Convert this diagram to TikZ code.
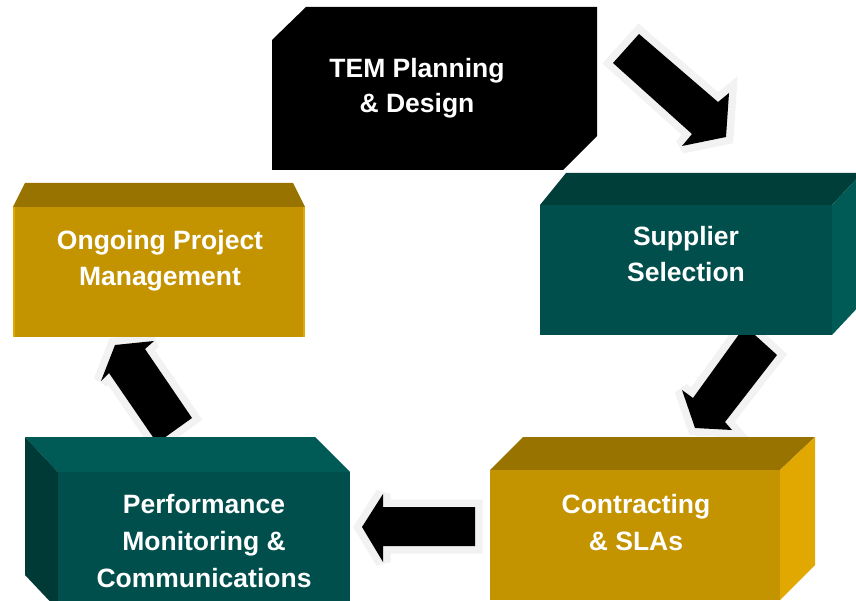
\documentclass[tikz,border=0pt]{standalone}
\usepackage{fontspec}
\setmainfont{Liberation Sans}
\definecolor{goldF}{HTML}{C49300}
\definecolor{goldT}{HTML}{997300}
\definecolor{goldS}{HTML}{E0A800}
\definecolor{tealF}{HTML}{004F4C}
\definecolor{tealT}{HTML}{003E3A}
\definecolor{tealS}{HTML}{005A56}
\definecolor{tealD}{HTML}{003A37}
\definecolor{halo}{HTML}{F2F2F2}
\begin{document}
\begin{tikzpicture}[x=1pt,y=-1pt,
  blockarrow/.style={fill=black, preaction={draw=halo, line width=15pt, line join=miter, miter limit=3}},
  lbl/.style={text=white, font=\fontsize{26.5}{32}\selectfont\bfseries, anchor=base, inner sep=0pt}]
\useasboundingbox (0,0) rectangle (856,601);
\clip (0,0) rectangle (856,601);
\fill[white] (0,0) rectangle (856,601);
% arrows (behind boxes)
\path[blockarrow] (613,63) -- (639,34) -- (718,102) -- (729,93) -- (726,137) -- (682,146) -- (692,134) -- cycle;
\path[blockarrow] (745,326) -- (777,355) -- (725,422) -- (732,430) -- (695,428) -- (682,390) -- (693,398) -- cycle;
\path[blockarrow] (475,507) -- (475,546) -- (383,546) -- (383,562) -- (362,527) -- (383,494) -- (383,507) -- cycle;
\path[blockarrow] (157,443) -- (109,373) -- (101,381) -- (115,345) -- (154,341) -- (145,349) -- (192,418) -- cycle;
% box 1: TEM Planning & Design
\fill[black] (272,40) -- (306,7) -- (597,7) -- (597,136) -- (563,170) -- (272,170) -- cycle;
% box 2: Supplier Selection
\fill[tealT] (540,205) -- (566,173) -- (862,173) -- (832,205) -- cycle;
\fill[tealS] (832,205) -- (862,173) -- (862,303) -- (832,335) -- cycle;
\fill[tealF] (540,205) rectangle (832,335);
% box 3: Ongoing Project Management
\fill[goldT] (13,207) -- (25,183) -- (293,183) -- (305,207) -- cycle;
\fill[goldF] (13,207) rectangle (305,337);
\fill[goldS] (13,207) rectangle (15,337);
\fill[goldS] (303,207) rectangle (305,337);
% box 4: Performance Monitoring & Communications
\fill[tealS] (25,437) -- (315,437) -- (350,472) -- (58,472) -- cycle;
\fill[tealD] (25,437) -- (58,472) -- (58,610) -- (25,575) -- cycle;
\fill[tealF] (58,472) rectangle (350,610);
% box 5: Contracting & SLAs
\fill[goldT] (490,470) -- (523,437) -- (815,437) -- (780,470) -- cycle;
\fill[goldS] (780,470) -- (815,437) -- (815,565) -- (780,600) -- cycle;
\fill[goldF] (490,470) rectangle (780,600);
% labels
\node[lbl] (t1a) at (417,78) {TEM Planning};
\node[lbl] (t1b) at (417,113) {\& Design};
\node[lbl] (t2a) at (686,246) {Supplier};
\node[lbl] (t2b) at (686,282) {Selection};
\node[lbl] (t3a) at (160,250) {Ongoing Project};
\node[lbl] (t3b) at (160,286) {Management};
\node[lbl] (t4a) at (204,513) {Performance};
\node[lbl] (t4b) at (204,550) {Monitoring \&};
\node[lbl] (t4c) at (204,587) {Communications};
\node[lbl] (t5a) at (636,513) {Contracting};
\node[lbl] (t5b) at (636,550) {\& SLAs};
\end{tikzpicture}
\end{document}
